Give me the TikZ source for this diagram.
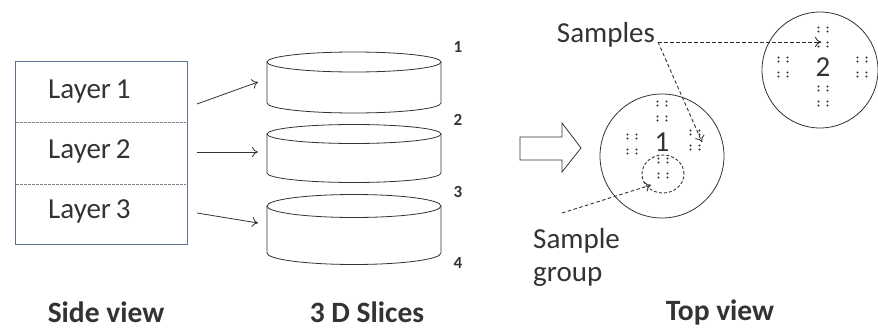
\documentclass[tikz,border=0pt]{standalone}
\usepackage{fontspec}
\setmainfont{Carlito}
\usetikzlibrary{arrows.meta}
\colorlet{ink}{black!80}
\definecolor{frame}{RGB}{95,115,145}
\tikzset{
    txt/.style={ink,inner sep=0pt,font=\fontsize{29}{33}\selectfont},
    hd/.style={ink,inner sep=0pt,font=\fontsize{29.5}{33}\selectfont\bfseries},
    num/.style={ink,inner sep=0pt,font=\fontsize{17}{19}\selectfont\bfseries},
    pt/.style={-{To[length=6pt,width=10pt]},ink,line width=0.8pt},
    dsh/.style={pt,line width=0.9pt,dash pattern=on 3.5pt off 2.5pt},
    slice/.style={ink,line width=0.8pt}
}
\newcommand{\sgroup}[2]{%
    \foreach \dx in {-4.5,4.5} {
        \foreach \dy in {-7.5,7.5} {
            \fill[ink] (#1+\dx,#2+\dy-2) circle [radius=1.2pt];
            \fill[ink] (#1+\dx,#2+\dy+2) circle [radius=1.2pt];
        }
    }
}

\begin{document}
\begin{tikzpicture}[x=1pt,y=-1pt]
    \useasboundingbox[fill=white] (0,0) rectangle (878,329);
    % side view
    \draw[frame,line width=1pt] (15,62) rectangle (187,244);
    \foreach \y in {122,184} {
        \draw[gray,line width=0.8pt,dash pattern=on 2.5pt off 1.5pt] (16,\y) -- (186,\y);
    }
    \node[txt,anchor=base west] (l1) at (48,99) {Layer\,1};
    \node[txt,anchor=base west] (l2) at (48,158) {Layer\,2};
    \node[txt,anchor=base west] (l3) at (48,218) {Layer\,3};
    % slices
    \foreach \t/\b/\r in {62/103/10,134/173/9.5,206/253/11.5} {
        \draw[slice] (267,\t) -- (267,\b)
            arc [start angle=180,end angle=360,x radius=87pt,y radius=\r pt]
            -- (441,\t);
        \draw[slice] (354,\t) ellipse [x radius=87pt,y radius=\r pt];
    }
    \foreach \n/\y in {1/47,2/120,3/192,4/263} {
        \node[num] (n\n) at (458,\y) {\n};
    }
    \coordinate (a1) at (197,104);
    \coordinate (a2) at (197,152);
    \coordinate (a3) at (197,213);
    \coordinate (c1) at (258,82);
    \coordinate (c2) at (258,152);
    \coordinate (c3) at (258,223);
    \foreach \i in {1,2,3} {
        \draw[pt] (a\i) -- (c\i);
    }
    % big arrow
    \draw[slice] (520,137) -- (562,137) -- (562,123) -- (581,148)
        -- (562,172) -- (562,160) -- (520,160) -- cycle;
    % top view
    \draw[slice] (662,156) circle [radius=62pt];
    \draw[slice] (820,70) circle [radius=58pt];
    \draw[ink,line width=0.9pt,dash pattern=on 3pt off 2pt] (663,174) ellipse [x radius=21pt,y radius=19pt];
    \node[txt] (d1) at (662,142) {1};
    \node[txt] (d2) at (823,67) {2};
    \foreach \x/\y in {662/111,632/144,695/140,663/168,823/37,783/67,862/67,823/96} {
        \sgroup{\x}{\y}
    }
    \node[txt] (samples) at (606,35) {Samples};
    \node[txt,anchor=base west] (sg1) at (533,248) {Sample};
    \node[txt,anchor=base west] (sg2) at (533,281) {group};
    \coordinate (s0) at (658,42);
    \coordinate (s1) at (821,42);
    \coordinate (s2) at (702,142);
    \coordinate (g0) at (562,213);
    \coordinate (g1) at (651,185);
    \draw[dsh] (s0) -- (s1);
    \draw[dsh] (s0) -- (s2);
    \draw[dsh] (g0) -- (g1);
    % captions
    \node[hd] (side) at (106,312) {Side view};
    \node[hd] (slices) at (367,312) {3 D Slices};
    \node[hd] (top) at (720,312) {Top view};
\end{tikzpicture}
\end{document}
